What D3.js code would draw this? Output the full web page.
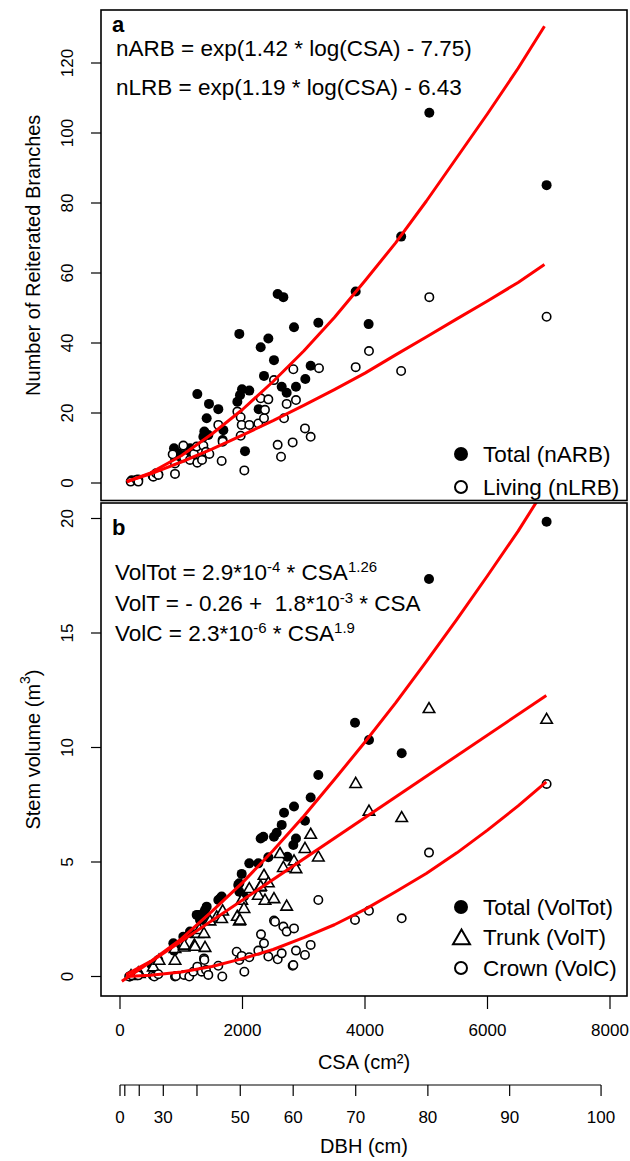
<!DOCTYPE html>
<html><head><meta charset="utf-8">
<script src="https://cdn.jsdelivr.net/npm/d3@7"></script>
<style>
body{margin:0;background:#fff}
svg{display:block}
text{font-family:"Liberation Sans",Arial,Helvetica,sans-serif;fill:#000;white-space:pre}
</style>
</head><body>
<svg id="c" width="630" height="1161"></svg>
<script>
// ---------- Panel a data (CSA cm², number of branches) ----------
const nARB_csa = [191,299,534,626,882,898,952,1045,1143,1154,1262,1361,1377,1415,1442,1453,1605,1676,1687,1916,1948,1959,1992,2041,2111,2264,2297,2351,2422,2514,2574,2640,2667,2721,2841,2873,3026,3113,3238,3848,4059,4590,5050,6965];
const nARB_val = [0.8,1.0,2.0,2.5,9.9,6.5,8.5,8.0,9.9,8.5,25.4,13.2,14.7,18.5,13.7,22.6,21.1,12.3,15.1,23.2,42.6,25.1,26.8,9.1,26.4,21.1,38.8,30.6,41.3,35.1,54.0,27.5,53.1,25.8,44.5,27.5,29.7,33.5,45.8,54.7,45.4,70.4,105.8,85.1];
const nLRB_csa = [174,272,299,544,588,626,860,898,898,1034,1045,1143,1208,1252,1262,1339,1361,1404,1459,1605,1660,1676,1916,1970,1970,1987,2030,2111,2258,2297,2351,2367,2422,2514,2574,2629,2678,2721,2819,2830,2873,3020,3113,3249,3848,4065,4590,5050,6965];
const nLRB_val = [0.4,0.9,0.4,1.8,2.8,2.3,8.2,5.6,2.6,10.7,7.3,6.6,8.3,10.4,5.8,6.6,10.7,8.9,8.3,16.6,6.3,11.8,20.4,18.8,13.5,16.6,3.6,16.6,17.0,24.2,18.5,20.9,23.9,29.4,10.9,7.5,18.5,22.6,11.6,32.5,23.7,15.6,13.2,32.8,33.1,37.7,32.0,53.1,47.5];
// fitted curves
const fitA_csa = [110,500,1000,1500,2000,2500,3000,3500,4000,4500,5000,5500,6000,6500,6930];
const fit_nARB = [0.35,2.9,7.8,14,21,29,37.7,47.3,57.8,68.6,80.5,93,105.5,118.5,130.5];
const fit_nLRB = [0.42,2.63,6.0,9.7,13.7,17.8,22.2,26.7,31.4,36.6,41.7,46.9,52,57.3,62.4];

// ---------- Panel b data (CSA cm², volume m³) ----------
const volTot_csa = [163,299,517,626,871,882,898,1034,1143,1154,1252,1279,1306,1361,1388,1415,1605,1633,1660,1931,1948,1948,1987,2024,2111,2258,2297,2340,2422,2514,2558,2640,2678,2732,2830,2841,2873,3020,3113,3238,3837,4065,4599,5045,6965];
const volTot_val = [0.0,0.11,0.5,0.72,1.45,1.13,1.38,1.74,1.96,1.89,2.69,2.69,2.47,2.76,2.9,3.05,3.34,3.41,3.49,4.0,4.07,3.70,4.48,3.49,4.94,4.94,6.03,6.10,5.21,6.10,6.28,6.62,7.15,5.23,5.74,7.42,6.03,6.80,7.82,8.8,11.08,10.33,9.75,17.36,19.86];
const volT_csa = [180,299,316,544,637,898,898,1045,1050,1213,1224,1268,1295,1371,1388,1453,1469,1578,1660,1676,1915,1948,1959,1987,2024,2111,2258,2286,2297,2351,2367,2422,2514,2612,2667,2721,2841,2873,3020,3113,3238,3848,4065,4599,5045,6965];
const volT_val = [0.05,0.17,0.14,0.43,0.72,1.23,0.72,1.30,1.38,1.38,1.33,1.89,2.06,1.89,1.28,2.47,2.44,2.61,2.54,2.87,2.64,2.44,2.47,3.34,2.98,3.85,3.56,3.92,3.95,4.43,3.34,4.10,3.41,5.38,4.77,3.08,5.06,4.72,5.60,6.22,5.23,8.44,7.23,6.95,11.71,11.24];
const volC_csa = [150,191,299,534,560,626,898,914,1045,1131,1197,1262,1333,1371,1377,1404,1442,1605,1670,1905,1948,1987,2030,2111,2258,2302,2351,2422,2514,2531,2575,2640,2667,2721,2819,2830,2841,2873,3020,3113,3238,3837,4065,4599,5045,6965];
const volC_val = [0.0,0.05,0.05,0.05,0.0,0.1,0.0,0.02,0.07,0.0,0.21,0.43,0.21,0.79,0.72,0.28,0.07,0.47,0.0,1.08,0.72,0.90,0.21,0.84,1.13,1.84,1.45,0.87,2.44,2.39,0.75,1.01,2.18,1.96,0.47,0.5,2.10,1.13,0.94,1.38,3.34,2.47,2.87,2.54,5.41,8.41];
const fitB_csa = [100,500,1000,1500,2000,2500,3000,3500,4000,4500,5000,5500,6000,6500,6960];
const fit_volTot = [0.08,0.66,1.64,2.84,4.1,5.5,7.0,8.6,10.24,11.95,13.75,15.6,17.5,19.45,21.4];
const fitT_csa = [30,6960];
const fit_volT = [-0.21,12.27];
const fit_volC = [0.003,0.053,0.2,0.44,0.78,1.18,1.70,2.26,2.93,3.7,4.5,5.4,6.39,7.45,8.5];

// ---------- axis ticks ----------
const csaTicks = [0,2000,4000,6000,8000];
const yTicksA = [0,20,40,60,80,100,120];
const yTicksB = [0,5,10,15,20];
const dbhTicks = [0,10,20,30,40,50,60,70,80,90,100];
const dbhLabels = [0,30,50,60,70,80,90,100];

const svg = d3.select("#c");
const x = d3.scaleLinear().domain([0,8000]).range([120,610]);
const yA = d3.scaleLinear().domain([0,120]).range([483,63]);
const yB = d3.scaleLinear().domain([0,20]).range([976.5,518.5]);
const boxL = 101, boxR = 627;
const A = {top:10, bottom:500.5};
const B = {top:503, bottom:996};
const EQ = 22.5;

// clip paths
const defs = svg.append("defs");
defs.append("clipPath").attr("id","clipA").append("rect").attr("x",boxL).attr("y",A.top).attr("width",boxR-boxL).attr("height",A.bottom-A.top);
defs.append("clipPath").attr("id","clipB").append("rect").attr("x",boxL).attr("y",B.top).attr("width",boxR-boxL).attr("height",B.bottom-B.top);

const tri = (cx,cy,w)=>{const h=w*0.87;return `M${cx},${cy-h*0.58}L${cx+w/2},${cy+h*0.42}L${cx-w/2},${cy+h*0.42}Z`;};

function drawCurve(g, xs, ys, y){
  const line = d3.line().x(d=>x(d[0])).y(d=>y(d[1]));
  g.append("path").attr("d", line(xs.map((v,i)=>[v,ys[i]])))
   .attr("fill","none").attr("stroke","#ff0000").attr("stroke-width",3).attr("stroke-linejoin","round");
}
function filled(g, xs, ys, y){
  g.selectAll(null).data(xs).enter().append("circle")
   .attr("cx",(d)=>x(d)).attr("cy",(d,i)=>y(ys[i])).attr("r",5).attr("fill","#000");
}
function open(g, xs, ys, y){
  g.selectAll(null).data(xs).enter().append("circle")
   .attr("cx",(d)=>x(d)).attr("cy",(d,i)=>y(ys[i])).attr("r",4.2)
   .attr("fill","#fff").attr("stroke","#000").attr("stroke-width",1.6);
}
function triangles(g, xs, ys, y){
  g.selectAll(null).data(xs).enter().append("path")
   .attr("d",(d,i)=>tri(x(d),y(ys[i]),11.5))
   .attr("fill","#fff").attr("stroke","#000").attr("stroke-width",1.6).attr("stroke-linejoin","miter");
}
function yAxis(scale, ticks){
  const g = svg.append("g");
  ticks.forEach(t=>{
    const yy = scale(t);
    g.append("line").attr("x1",boxL-10).attr("x2",boxL).attr("y1",yy).attr("y2",yy).attr("stroke","#000").attr("stroke-width",1.2);
    g.append("text").attr("transform",`translate(${67},${yy}) rotate(-90)`)
     .attr("text-anchor","middle").attr("dominant-baseline","central").attr("font-size",17).text(t);
  });
}

// ---------- Panel a ----------
const gA = svg.append("g");
const gAc = gA.append("g").attr("clip-path","url(#clipA)");
filled(gAc, nARB_csa, nARB_val, yA);
open(gAc, nLRB_csa, nLRB_val, yA);
drawCurve(gAc, fitA_csa, fit_nARB, yA);
drawCurve(gAc, fitA_csa, fit_nLRB, yA);
gA.append("rect").attr("x",boxL).attr("y",A.top).attr("width",boxR-boxL).attr("height",A.bottom-A.top)
  .attr("fill","none").attr("stroke","#000").attr("stroke-width",1.6);
yAxis(yA, yTicksA);
svg.append("text").attr("transform",`translate(33,${(A.top+A.bottom)/2}) rotate(-90)`)
  .attr("text-anchor","middle").attr("dominant-baseline","central").attr("font-size",20).text("Number of Reiterated Branches");
gA.append("text").attr("x",112).attr("y",32).attr("font-size",22).attr("font-weight","bold").text("a");
gA.append("text").attr("x",116).attr("y",56).attr("font-size",EQ).text("nARB = exp(1.42 * log(CSA) - 7.75)");
gA.append("text").attr("x",116).attr("y",95).attr("font-size",EQ).text("nLRB = exp(1.19 * log(CSA) - 6.43");
// legend a
gA.append("circle").attr("cx",461).attr("cy",454).attr("r",7).attr("fill","#000");
gA.append("text").attr("x",483).attr("y",454).attr("dominant-baseline","central").attr("font-size",EQ).text("Total (nARB)");
gA.append("circle").attr("cx",461).attr("cy",487).attr("r",6).attr("fill","#fff").attr("stroke","#000").attr("stroke-width",2);
gA.append("text").attr("x",483).attr("y",487).attr("dominant-baseline","central").attr("font-size",EQ).text("Living (nLRB)");

// ---------- Panel b ----------
const gB = svg.append("g");
const gBc = gB.append("g").attr("clip-path","url(#clipB)");
filled(gBc, volTot_csa, volTot_val, yB);
triangles(gBc, volT_csa, volT_val, yB);
open(gBc, volC_csa, volC_val, yB);
drawCurve(gBc, fitB_csa, fit_volTot, yB);
drawCurve(gBc, fitT_csa, fit_volT, yB);
drawCurve(gBc, fitB_csa, fit_volC, yB);
gB.append("rect").attr("x",boxL).attr("y",B.top).attr("width",boxR-boxL).attr("height",B.bottom-B.top)
  .attr("fill","none").attr("stroke","#000").attr("stroke-width",1.6);
yAxis(yB, yTicksB);
const yt = svg.append("text").attr("transform",`translate(33,${(B.top+B.bottom)/2}) rotate(-90)`)
  .attr("text-anchor","middle").attr("dominant-baseline","central").attr("font-size",20);
yt.append("tspan").text("Stem volume (m");
yt.append("tspan").attr("font-size",14).attr("dy",-8).text("3");
yt.append("tspan").attr("dy",8).text(")");
gB.append("text").attr("x",112).attr("y",535).attr("font-size",22).attr("font-weight","bold").text("b");
// equations: each piece is its own text element, placed after the previous one
function eq(yy, parts){
  let cx = 115;
  parts.forEach(p=>{
    const t = gB.append("text").attr("x",cx)
      .attr("y", p.sup ? yy-8 : yy)
      .attr("font-size", p.sup ? 15 : EQ)
      .text(p.sup || p.t);
    cx += t.node().getComputedTextLength();
  });
}
eq(580,[{t:"VolTot = 2.9*10"},{sup:"-4"},{t:" * CSA"},{sup:"1.26"}]);
eq(611,[{t:"VolT = - 0.26 +  1.8*10"},{sup:"-3"},{t:" * CSA"}]);
eq(641,[{t:"VolC = 2.3*10"},{sup:"-6"},{t:" * CSA"},{sup:"1.9"}]);
// legend b
gB.append("circle").attr("cx",461).attr("cy",907).attr("r",7).attr("fill","#000");
gB.append("text").attr("x",483).attr("y",907).attr("dominant-baseline","central").attr("font-size",EQ).text("Total (VolTot)");
gB.append("path").attr("d",tri(461.5,938,17)).attr("fill","#fff").attr("stroke","#000").attr("stroke-width",2);
gB.append("text").attr("x",483).attr("y",937).attr("dominant-baseline","central").attr("font-size",EQ).text("Trunk (VolT)");
gB.append("circle").attr("cx",461).attr("cy",968).attr("r",6).attr("fill","#fff").attr("stroke","#000").attr("stroke-width",2);
gB.append("text").attr("x",483).attr("y",968).attr("dominant-baseline","central").attr("font-size",EQ).text("Crown (VolC)");

// ---------- CSA axis ----------
const gx = svg.append("g");
csaTicks.forEach(t=>{
  gx.append("line").attr("x1",x(t)).attr("x2",x(t)).attr("y1",B.bottom).attr("y2",B.bottom+13).attr("stroke","#000").attr("stroke-width",1.2);
  gx.append("text").attr("x",x(t)).attr("y",1030).attr("text-anchor","middle").attr("dominant-baseline","central").attr("font-size",17).text(t);
});
gx.append("text").attr("x",(boxL+boxR)/2).attr("y",1062).attr("text-anchor","middle").attr("dominant-baseline","central").attr("font-size",20).text("CSA (cm\u00b2)");

// ---------- DBH axis (position = CSA of that DBH) ----------
const dbhX = d => x(Math.PI*(d/2)*(d/2));
const gd = svg.append("g");
gd.append("line").attr("x1",dbhX(0)).attr("x2",dbhX(100)).attr("y1",1085).attr("y2",1085).attr("stroke","#000").attr("stroke-width",1.2);
dbhTicks.forEach(t=>{
  gd.append("line").attr("x1",dbhX(t)).attr("x2",dbhX(t)).attr("y1",1085).attr("y2",1096).attr("stroke","#000").attr("stroke-width",1.2);
});
dbhLabels.forEach(t=>{
  gd.append("text").attr("x",dbhX(t)).attr("y",1117).attr("text-anchor","middle").attr("dominant-baseline","central").attr("font-size",17).text(t);
});
gd.append("text").attr("x",(boxL+boxR)/2).attr("y",1146).attr("text-anchor","middle").attr("dominant-baseline","central").attr("font-size",20).text("DBH (cm)");
</script>
</body></html>
